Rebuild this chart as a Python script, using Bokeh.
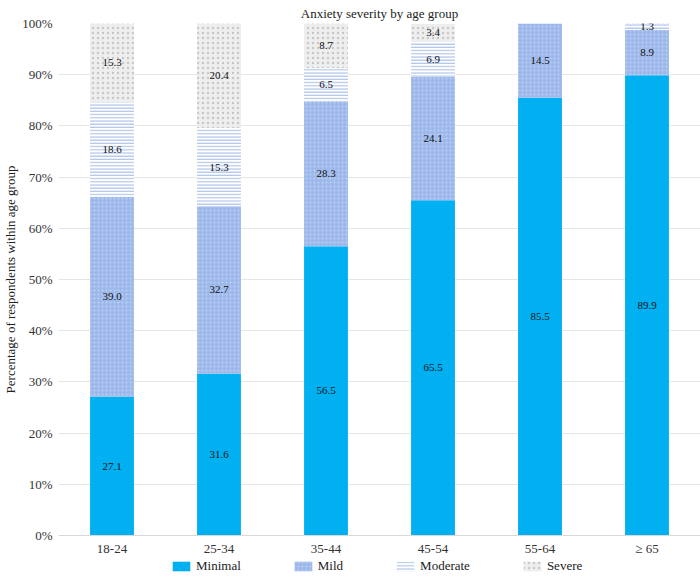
from bokeh.plotting import figure
from bokeh.layouts import column
from bokeh.models import (ColumnDataSource, FactorRange, Range1d, Legend, LegendItem,
                          PrintfTickFormatter, SingleIntervalTicker)
from bokeh.transform import stack
from bokeh.embed import file_html
from bokeh.resources import INLINE
from bokeh.core.properties import value

age_groups = ["18-24", "25-34", "35-44", "45-54", "55-64", "\u2265 65"]
minimal = [27.1, 31.6, 56.5, 65.5, 85.5, 89.9]
mild = [39.0, 32.7, 28.3, 24.1, 14.5, 8.9]
moderate = [18.6, 15.3, 6.5, 6.9, 0.0, 1.3]
severe = [15.3, 20.4, 8.7, 3.4, 0.0, 0.0]
series_names = ["Minimal", "Mild", "Moderate", "Severe"]
series_keys = ["minimal", "mild", "moderate", "severe"]

FONT = "Liberation Serif"

src = ColumnDataSource(dict(age=age_groups, minimal=minimal, mild=mild,
                            moderate=moderate, severe=severe))

p = figure(x_range=FactorRange(*age_groups), y_range=Range1d(0, 100),
           width=700, height=558, output_backend="svg", toolbar_location=None,
           title="Anxiety severity by age group", min_border_left=0,
           min_border_right=0, min_border_top=2, min_border_bottom=0)
p.title.align = "center"
p.title.text_font = FONT
p.title.text_font_size = "13px"
p.title.text_font_style = "normal"
p.title.text_color = "#222222"
p.title.standoff = 6

styles = [
    dict(fill_color="#00B0F0"),
    dict(fill_color="#9DB8EA", hatch_pattern="dot", hatch_color="#BFD0F2",
         hatch_scale=4, hatch_alpha=1.0),
    dict(fill_color="#FFFFFF", hatch_pattern="horizontal_line", hatch_color="#AFC4EA",
         hatch_scale=3.2, hatch_weight=1.2),
    dict(fill_color="#EEEEEE", hatch_pattern="dot", hatch_color="#C8C8C8",
         hatch_scale=5, hatch_alpha=1.0),
]

for i, key in enumerate(series_keys):
    p.vbar(x="age", width=0.41, bottom=stack(*series_keys[:i]),
           top=stack(*series_keys[:i + 1]), source=src, line_color=None,
           **styles[i])

# value labels at segment middles
lx, ly, lt = [], [], []
for j, a in enumerate(age_groups):
    base = 0.0
    for key, vals in zip(series_keys, [minimal, mild, moderate, severe]):
        v = vals[j]
        if v > 0:
            lx.append(a)
            ly.append(base + v / 2)
            lt.append(f"{v:.1f}")
        base += v
lsrc = ColumnDataSource(dict(x=lx, y=ly, t=lt))
p.text(x="x", y="y", text="t", source=lsrc, text_align="center",
       text_baseline="middle", text_font=value(FONT), text_font_size="11px",
       text_color="#111111")

p.yaxis.ticker = SingleIntervalTicker(interval=10)
p.yaxis.formatter = PrintfTickFormatter(format="%d%%")
p.yaxis.axis_label = "Percentage of respondents within age group"
p.yaxis.axis_label_text_font = FONT
p.yaxis.axis_label_text_font_size = "13px"
p.yaxis.axis_label_text_font_style = "normal"
p.yaxis.axis_label_text_color = "#222222"
p.yaxis.axis_label_standoff = 1
p.yaxis.axis_line_color = None
p.yaxis.major_tick_line_color = None
p.yaxis.minor_tick_line_color = None
p.yaxis.major_tick_out = 0
p.yaxis.major_label_text_font = FONT
p.yaxis.major_label_text_font_size = "13px"
p.yaxis.major_label_text_color = "#333333"
p.yaxis.major_label_standoff = 2

p.xaxis.axis_label = None
p.xaxis.axis_line_color = "#D9D9D9"
p.xaxis.major_tick_line_color = None
p.xaxis.minor_tick_line_color = None
p.xaxis.major_tick_out = 0
p.xaxis.major_label_text_font = FONT
p.xaxis.major_label_text_font_size = "13px"
p.xaxis.major_label_text_color = "#333333"
p.xaxis.major_label_standoff = 5

p.xgrid.grid_line_color = None
p.ygrid.grid_line_color = "#E6E6E6"
p.outline_line_color = None

# legend strip
lg = figure(width=700, height=20, output_backend="svg", toolbar_location=None,
            x_range=Range1d(0, 1), y_range=Range1d(0, 1),
            min_border_left=0, min_border_right=0, min_border_top=0, min_border_bottom=0)
lg.axis.visible = False
lg.grid.visible = False
lg.outline_line_color = None
offscreen = ColumnDataSource(dict(x=[5.0], top=[5.0]))
leg_renderers = [lg.vbar(x="x", top="top", bottom=4.0, width=0.1, source=offscreen,
                         line_color=None, **s) for s in styles]
legend = Legend(items=[LegendItem(label=n, renderers=[r]) for n, r in zip(series_names, leg_renderers)],
                orientation="horizontal", location=(112, 4), spacing=51,
                label_standoff=4, glyph_width=22, glyph_height=12,
                label_text_font=FONT, label_text_font_size="13px",
                label_text_color="#222222", border_line_color=None,
                background_fill_alpha=0, padding=0, margin=0, label_height=13)
lg.add_layout(legend, "center")

layout = column(p, lg, spacing=0)
open("out.html", "w").write(file_html(layout, INLINE))
